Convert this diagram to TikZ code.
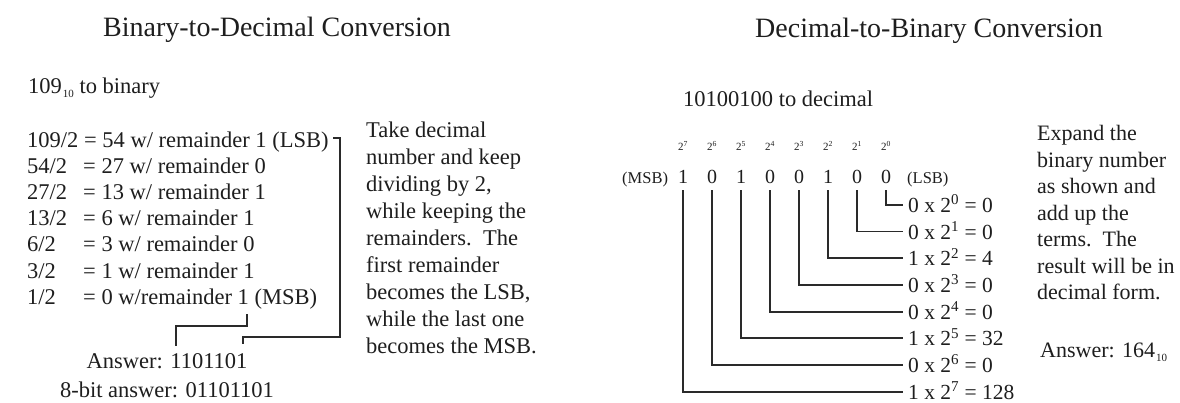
\documentclass[tikz,border=0pt]{standalone}
\usepackage{fontspec}
\setmainfont{Liberation Serif}
\definecolor{ink}{HTML}{1E1E1E}
\definecolor{wire}{HTML}{2A2A2A}
\newcommand{\subten}{\kern1pt\raisebox{-4.5pt}{\fontsize{11}{11}\selectfont 10}}
\begin{document}
\begin{tikzpicture}[x=1pt,y=-1pt,
  txt/.style={anchor=base west, inner sep=0pt, text=ink, font=\fontsize{22.5}{27}\selectfont},
  para/.style={anchor=base west, inner sep=0pt, text=ink, font=\fontsize{22}{26}\selectfont},
  ttl/.style={anchor=base west, inner sep=0pt, text=ink, font=\fontsize{28}{32}\selectfont},
  tag/.style={anchor=base west, inner sep=0pt, text=ink, font=\fontsize{16.5}{18}\selectfont},
  bit/.style={anchor=base, inner sep=0pt, text=ink, font=\fontsize{20}{24}\selectfont},
  pw/.style={anchor=base, inner sep=0pt, text=ink, font=\fontsize{11}{12}\selectfont},
  term/.style={anchor=base west, inner xsep=5pt, inner ysep=0pt, text height=15pt, text depth=0pt, text=ink, font=\fontsize{21.5}{26}\selectfont},
  conn/.style={draw=wire, line width=1.8pt}
]
\useasboundingbox[fill=white] (0,0) rectangle (1180,402);

% ---------- left half ----------
\node[ttl] (t1) at (103,36) {Binary-to-Decimal Conversion};
\node[txt] (q1) at (28,93) {109\subten{} to binary};

\node[txt] (l1) at (27,147) {109/2 = 54 w/ remainder 1 (LSB)};
\foreach \n/\a/\b [count=\i from 2] in {
  54/2/{= 27 w/ remainder 0},
  27/2/{= 13 w/ remainder 1},
  13/2/{= 6 w/ remainder 1},
  6/2/{= 3 w/ remainder 0},
  3/2/{= 1 w/ remainder 1},
  1/2/{= 0 w/remainder 1 (MSB)}}{
  \node[txt] (la\i) at (27,{147+26.2*(\i-1)}) {\n/\a};
  \node[txt] (lb\i) at (83,{147+26.2*(\i-1)}) {\b};
}

\node[txt, anchor=base] (ans) at (167,368) {Answer: 1101101};
\node[txt, anchor=base] (ans8) at (167,397) {8-bit answer: 01101101};

\coordinate (lsbTop) at (333,138);
\coordinate (lsbEnd) at (243,344);
\draw[conn] (lsbTop) -| (340,337) -| (lsbEnd);
\coordinate (msbTop) at (247,314);
\coordinate (msbEnd) at (176,346);
\draw[conn] (msbTop) |- (176,326) -- (msbEnd);

\foreach \s [count=\i from 0] in {Take decimal, number and keep, {dividing by 2,}, while keeping the, {remainders.\ \ The}, first remainder, {becomes the LSB,}, while the last one, becomes the MSB.}{
  \node[txt] (p\i) at (366,{137.5+27*\i}) {\s};
}

% ---------- right half ----------
\node[ttl] (t2) at (755,37) {Decimal-to-Binary Conversion};
\node[txt] (q2) at (683,106) {10100100 to decimal};

\node[tag] (msb) at (622,183) {(MSB)};
\node[tag] (lsb) at (907,183) {(LSB)};

\foreach \k/\b/\v in {7/1/128, 6/0/0, 5/1/32, 4/0/0, 3/0/0, 2/1/4, 1/0/0, 0/0/0}{
  \pgfmathsetmacro{\xx}{683+29*(7-\k)}
  \pgfmathsetmacro{\yy}{205+26.7*\k}
  \node[pw] (e\k) at (\xx,150) {2\textsuperscript{\k}};
  \node[bit] (d\k) at (\xx,183) {\b};
  \node[term] (r\k) at (903,\yy+7.3) {\b{} x 2\textsuperscript{\k} = \v};
  \draw[conn] ([yshift=-7pt]d\k.south) |- (r\k.west);
}

\foreach \s [count=\i from 0] in {Expand the, binary number, as shown and, add up the, {terms.\ \ The}, result will be in, decimal form.}{
  \node[para] (x\i) at (1037,{140.5+26.5*\i}) {\s};
}
\node[para] (ans2) at (1040,357) {Answer: 164\subten};
\end{tikzpicture}
\end{document}
